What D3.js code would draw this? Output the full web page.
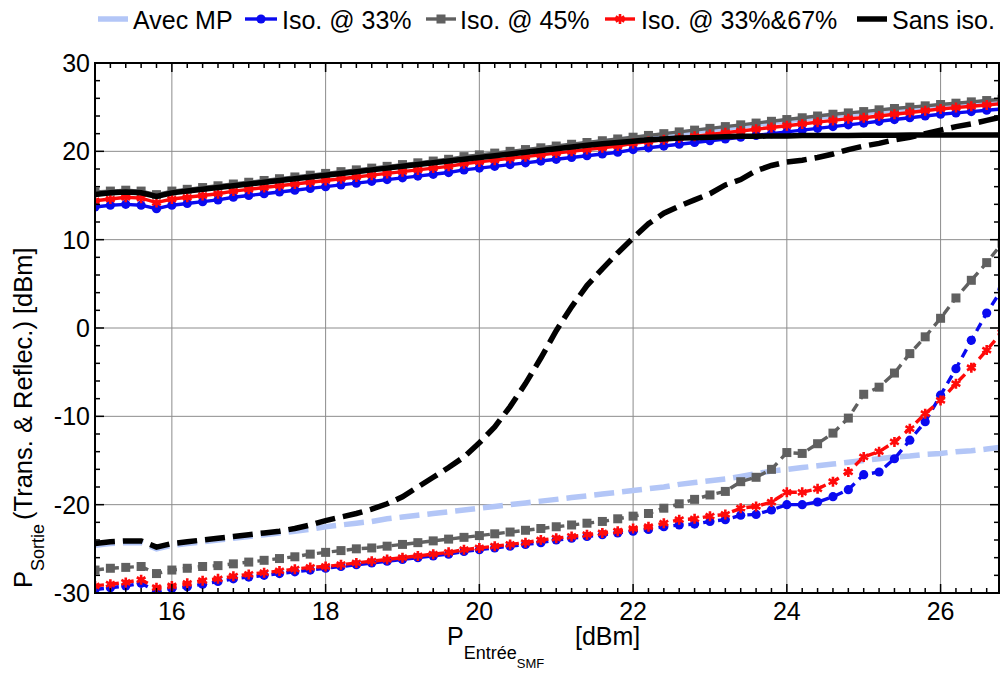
<!DOCTYPE html>
<html><head><meta charset="utf-8">
<script src="https://cdn.jsdelivr.net/npm/d3@7"></script>
<style>body{margin:0;background:#fff}svg{display:block;font-family:"Liberation Sans",Arial,sans-serif}</style>
</head><body><svg id="c" width="1000" height="673"></svg>
<script>
// ---- data ----
const xVals = [15.0,15.2,15.4,15.6,15.8,16.0,16.2,16.4,16.6,16.8,17.0,17.2,17.4,17.6,17.8,18.0,18.2,18.4,18.6,18.8,19.0,19.2,19.4,19.6,19.8,20.0,20.2,20.4,20.6,20.8,21.0,21.2,21.4,21.6,21.8,22.0,22.2,22.4,22.6,22.8,23.0,23.2,23.4,23.6,23.8,24.0,24.2,24.4,24.6,24.8,25.0,25.2,25.4,25.6,25.8,26.0,26.2,26.4,26.6,26.8];

// transmission (upper, solid)
const mpTrans = [15.25,15.35,15.45,15.35,14.95,15.35,15.55,15.75,15.95,16.15,16.35,16.55,16.75,16.95,17.15,17.35,17.55,17.75,17.95,18.15,18.35,18.55,18.75,18.95,19.25,19.45,19.65,19.85,20.05,20.25,20.45,20.65,20.85,21.05,21.25,21.45,21.65,21.85,22.05,22.25,22.45,22.65,22.85,23.05,23.25,23.45,23.65,23.85,24.05,24.2,24.35,24.55,24.7,24.85,25.0,25.15,25.3,25.45,25.6,25.75];
const iso33Trans = [13.7,13.9,14.0,13.9,13.5,13.9,14.1,14.3,14.5,14.8,15.0,15.2,15.4,15.6,15.8,16.0,16.2,16.4,16.6,16.8,17.0,17.2,17.4,17.6,17.9,18.1,18.3,18.5,18.7,18.9,19.1,19.3,19.5,19.7,19.9,20.2,20.4,20.6,20.8,21.0,21.2,21.4,21.6,21.8,22.0,22.2,22.4,22.6,22.8,23.0,23.2,23.4,23.6,23.8,24.0,24.2,24.35,24.5,24.65,24.8];
const iso45Trans = [15.4,15.5,15.6,15.5,15.1,15.5,15.7,15.9,16.1,16.3,16.5,16.7,16.9,17.1,17.3,17.5,17.7,17.9,18.1,18.3,18.5,18.7,18.9,19.1,19.4,19.6,19.8,20.0,20.2,20.4,20.6,20.8,21.0,21.2,21.4,21.6,21.8,22.0,22.2,22.4,22.6,22.8,23.0,23.2,23.4,23.6,23.8,24.0,24.2,24.35,24.5,24.7,24.85,25.0,25.15,25.3,25.45,25.6,25.75,25.9];
const iso3367Trans = [14.4,14.6,14.8,14.7,14.2,14.6,14.8,15.0,15.2,15.5,15.7,15.9,16.1,16.3,16.5,16.7,16.9,17.1,17.3,17.5,17.7,17.9,18.1,18.3,18.6,18.8,19.0,19.2,19.4,19.6,19.8,20.0,20.2,20.4,20.6,20.9,21.1,21.3,21.5,21.7,21.9,22.1,22.3,22.5,22.7,22.9,23.1,23.3,23.5,23.7,23.8,24.0,24.2,24.4,24.6,24.8,24.95,25.1,25.25,25.4];
const sansTrans = [15.1,15.3,15.4,15.3,14.9,15.3,15.5,15.7,15.9,16.1,16.3,16.5,16.7,16.9,17.1,17.3,17.5,17.7,17.9,18.1,18.3,18.5,18.7,18.9,19.1,19.3,19.5,19.7,19.9,20.1,20.3,20.5,20.7,20.85,21.0,21.15,21.3,21.4,21.5,21.55,21.6,21.65,21.7,21.7,21.75,21.75,21.78,21.8,21.8,21.8,21.82,21.82,21.83,21.84,21.85,21.85,21.85,21.85,21.85,21.85];

// reflection (lower, dashed)
const mpRefl = [-24.6,-24.4,-24.3,-24.3,-25.0,-24.6,-24.4,-24.2,-24.0,-23.8,-23.6,-23.4,-23.2,-23.0,-22.8,-22.5,-22.3,-22.1,-21.9,-21.6,-21.4,-21.2,-21.0,-20.8,-20.6,-20.4,-20.2,-20.0,-19.8,-19.6,-19.4,-19.2,-19.0,-18.8,-18.6,-18.4,-18.2,-18.0,-17.7,-17.5,-17.3,-17.1,-16.8,-16.5,-16.2,-16.0,-15.8,-15.6,-15.4,-15.2,-15.0,-14.8,-14.6,-14.5,-14.3,-14.2,-14.0,-13.9,-13.7,-13.5];
const iso33Refl = [-29.6,-29.4,-29.2,-28.9,-29.8,-29.5,-29.3,-29.0,-28.7,-28.4,-28.2,-28.0,-27.8,-27.6,-27.4,-27.2,-27.0,-26.8,-26.6,-26.4,-26.2,-26.0,-25.8,-25.6,-25.3,-25.1,-24.9,-24.7,-24.5,-24.3,-24.0,-23.8,-23.6,-23.4,-23.2,-23.0,-22.8,-22.5,-22.3,-22.2,-21.9,-21.7,-21.2,-21.1,-20.6,-20.0,-20.0,-19.7,-19.1,-18.3,-16.6,-16.3,-14.8,-12.7,-10.6,-7.6,-4.6,-1.4,1.7,4.4];
const iso45Refl = [-27.4,-27.2,-27.1,-27.0,-27.8,-27.4,-27.2,-27.0,-26.9,-26.7,-26.5,-26.3,-26.1,-25.9,-25.6,-25.4,-25.2,-25.0,-24.9,-24.7,-24.5,-24.3,-24.1,-23.9,-23.7,-23.5,-23.3,-23.1,-22.9,-22.7,-22.5,-22.3,-22.1,-21.9,-21.6,-21.3,-21.0,-20.4,-19.9,-19.4,-18.9,-18.5,-17.4,-16.9,-16.0,-14.1,-14.2,-13.1,-11.9,-10.2,-7.5,-6.7,-5.1,-2.9,-1.0,1.1,3.4,5.4,7.4,9.6];
const iso3367Refl = [-29.2,-29.0,-28.8,-28.5,-29.4,-29.2,-28.9,-28.6,-28.4,-28.1,-27.9,-27.7,-27.5,-27.3,-27.1,-27.0,-26.8,-26.6,-26.4,-26.2,-26.0,-25.8,-25.6,-25.4,-25.1,-24.9,-24.7,-24.5,-24.3,-24.0,-23.8,-23.6,-23.4,-23.2,-23.0,-22.7,-22.5,-22.1,-21.7,-21.6,-21.3,-21.1,-20.4,-20.2,-19.7,-18.6,-18.6,-18.2,-17.4,-16.3,-14.6,-14.0,-12.9,-11.4,-9.7,-8.2,-6.3,-4.5,-2.5,-0.5];
const sansRefl = [-24.4,-24.2,-24.1,-24.1,-24.8,-24.4,-24.2,-24.0,-23.8,-23.6,-23.4,-23.2,-23.0,-22.7,-22.3,-21.8,-21.4,-21.0,-20.5,-19.9,-19.1,-18.0,-16.9,-15.8,-14.6,-13.0,-11.2,-8.9,-6.3,-3.4,-0.3,2.4,4.8,6.7,8.5,10.2,11.8,13.0,13.8,14.5,15.2,16.2,16.8,17.8,18.4,18.8,19.0,19.3,19.7,20.2,20.6,20.9,21.3,21.6,22.0,22.4,22.8,23.1,23.5,23.9];

const legendLabels = ["Avec MP","Iso. @ 33%","Iso. @ 45%","Iso. @ 33%&67%","Sans iso."];
const xTicks = [16,18,20,22,24,26];
const yTicks = [-30,-20,-10,0,10,20,30];

// ---- layout ----
const svg = d3.select("#c");
const L = 95, R = 999, T = 63, B = 593;
const x = d3.scaleLinear().domain([15, 26.76]).range([L, R]);
const y = d3.scaleLinear().domain([-30, 30]).range([B, T]);

svg.append("defs").append("clipPath").attr("id","clip")
  .append("rect").attr("x",L).attr("y",T).attr("width",R-L).attr("height",B-T);

// grid
const grid = svg.append("g").attr("stroke","#8c8c8c").attr("stroke-width",1);
xTicks.forEach(t => grid.append("line").attr("x1",x(t)).attr("x2",x(t)).attr("y1",T).attr("y2",B));
yTicks.filter(t=>t>-30&&t<30).forEach(t => grid.append("line").attr("x1",L).attr("x2",R).attr("y1",y(t)).attr("y2",y(t)));

// series
const series = [
  {name:legendLabels[0], trans:mpTrans, refl:mpRefl, color:"#b3c6f7", w:5.5, dash:"20,8", marker:null},
  {name:legendLabels[1], trans:iso33Trans, refl:iso33Refl, color:"#0a0af0", w:3.4, dash:"9,6", marker:"circle"},
  {name:legendLabels[2], trans:iso45Trans, refl:iso45Refl, color:"#606060", w:3.4, dash:"9,6", marker:"square"},
  {name:legendLabels[3], trans:iso3367Trans, refl:iso3367Refl, color:"#ff0a0a", w:3.4, dash:"9,6", marker:"x"},
  {name:legendLabels[4], trans:sansTrans, refl:sansRefl, color:"#000000", w:5.5, dash:"20,8", marker:null}
];

const plot = svg.append("g").attr("clip-path","url(#clip)");
const line = d3.line().x(d=>x(d[0])).y(d=>y(d[1]));

function drawMarker(g, type, cx, cy, color){
  if(type==="circle"){
    g.append("circle").attr("cx",cx).attr("cy",cy).attr("r",4.6).attr("fill",color);
  } else if(type==="square"){
    g.append("rect").attr("x",cx-4.5).attr("y",cy-4.5).attr("width",9).attr("height",9).attr("fill",color);
  } else if(type==="x"){
    g.append("path").attr("transform",`translate(${cx},${cy})`)
      .attr("d",d3.symbol().type(d3.symbolAsterisk).size(70)())
      .attr("stroke",color).attr("stroke-width",2.6).attr("fill","none");
  }
}

series.forEach(s => {
  const g = plot.append("g");
  [["refl", s.dash], ["trans", null]].forEach(([k, dash]) => {
    const pts = xVals.map((xv,i)=>[xv, s[k][i]]);
    g.append("path").attr("d", line(pts)).attr("fill","none")
      .attr("stroke", s.color).attr("stroke-width", s.w)
      .attr("stroke-dasharray", dash);
    if(s.marker){
      pts.forEach(p => drawMarker(g, s.marker, x(p[0]), y(p[1]), s.color));
    }
  });
});

// frame
const ax = svg.append("g").attr("stroke","#000").attr("fill","none");
ax.append("rect").attr("x",L).attr("y",T).attr("width",R-L).attr("height",B-T).attr("stroke-width",2);

// ticks (inward)
const tk = svg.append("g").attr("stroke","#000").attr("stroke-width",1.5);
d3.range(15, 26.8, 0.2).forEach(v => {
  const major = xTicks.some(t=>Math.abs(t-v)<1e-6);
  const len = major ? 9 : 5;
  tk.append("line").attr("x1",x(v)).attr("x2",x(v)).attr("y1",B).attr("y2",B-len);
  tk.append("line").attr("x1",x(v)).attr("x2",x(v)).attr("y1",T).attr("y2",T+len);
});
d3.range(-30, 31, 2).forEach(v => {
  const major = yTicks.includes(v);
  const len = major ? 9 : 5;
  tk.append("line").attr("x1",L).attr("x2",L+len).attr("y1",y(v)).attr("y2",y(v));
  tk.append("line").attr("x1",R).attr("x2",R-len).attr("y1",y(v)).attr("y2",y(v));
});

// tick labels
const lab = svg.append("g").attr("font-size",25).attr("fill","#000");
xTicks.forEach(t => lab.append("text").attr("x",x(t)).attr("y",B+27).attr("text-anchor","middle").text(t));
yTicks.forEach(t => lab.append("text").attr("x",L-5).attr("y",y(t)+9).attr("text-anchor","end").text(t));

// axis titles
const xt = svg.append("text").attr("x",447).attr("y",645).attr("font-size",25);
xt.append("tspan").text("P");
xt.append("tspan").attr("font-size",18).attr("dy",14).text("Entrée");
xt.append("tspan").attr("font-size",13).attr("dy",9).text("SMF");
xt.append("tspan").attr("x",575).attr("y",645).attr("font-size",25).text("[dBm]");

const yt = svg.append("text").attr("transform","translate(32,588) rotate(-90)").attr("font-size",25.5);
yt.append("tspan").text("P");
yt.append("tspan").attr("font-size",18).attr("dy",12).text("Sortie");
yt.append("tspan").attr("dy",-12).attr("dx",4).text("(Trans. & Reflec.) [dBm]");

// legend
const legPos = [[98,128,133],[245,277,282],[426,456,460],[605,635,641],[857,887,892]];
const lg = svg.append("g");
series.forEach((s,i) => {
  const [x1,x2,tx] = legPos[i];
  lg.append("line").attr("x1",x1).attr("x2",x2).attr("y1",19).attr("y2",19)
    .attr("stroke",s.color).attr("stroke-width", s.w);
  if(s.marker) drawMarker(lg, s.marker, (x1+x2)/2, 19, s.color);
  lg.append("text").attr("x",tx).attr("y",29).attr("font-size",25).text(s.name);
});
</script></body></html>
